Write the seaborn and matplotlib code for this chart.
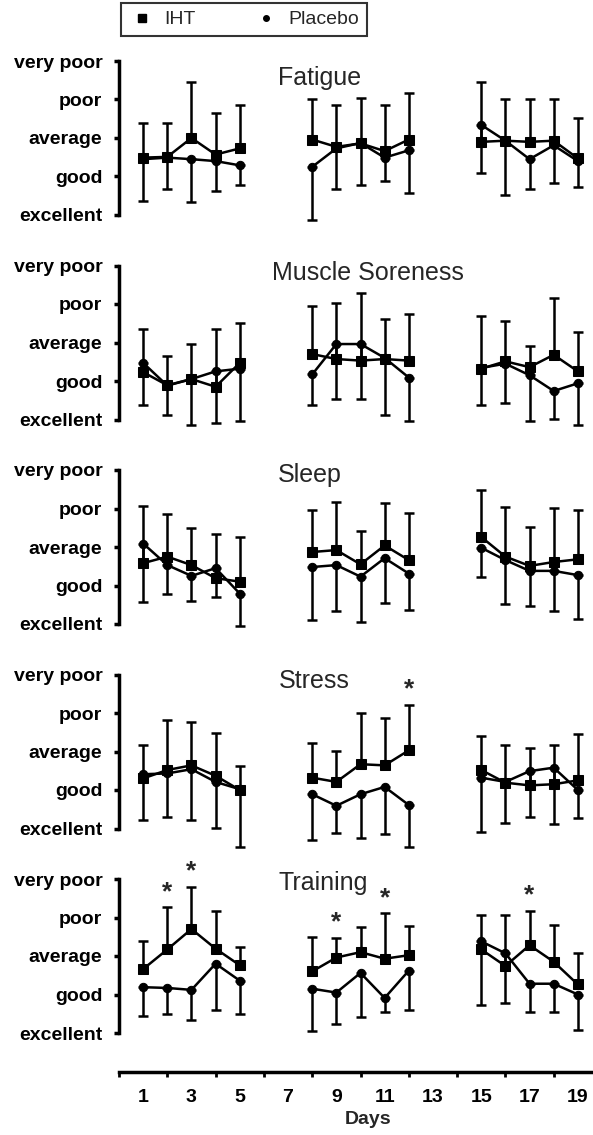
import numpy as np
import pandas as pd
import matplotlib
matplotlib.use("Agg")
import matplotlib.pyplot as plt
from matplotlib.lines import Line2D
import seaborn as sns

# ---------------- data ----------------
days = [1, 2, 3, 4, 5, 8, 9, 10, 11, 12, 15, 16, 17, 18, 19]
blocks = [1, 1, 1, 1, 1, 2, 2, 2, 2, 2, 3, 3, 3, 3, 3]
panels = ["Fatigue", "Muscle Soreness", "Sleep", "Stress", "Training"]
level_labels = ["excellent", "good", "average", "poor", "very poor"]
level_values = [1, 2, 3, 4, 5]
xtick_labels = ["1", "3", "5", "7", "9", "11", "13", "15", "17", "19"]

fatigue_iht = [2.49, 2.51, 3.00, 2.57, 2.73, 2.96, 2.77, 2.86, 2.66, 2.96, 2.90, 2.93, 2.90, 2.93, 2.47]
fatigue_iht_sd = [0.91, 0.89, 1.45, 1.09, 1.14, 1.06, 1.08, 1.19, 1.21, 1.21, 1.55, 1.07, 1.10, 1.07, 1.04]
fatigue_pla = [2.45, 2.49, 2.45, 2.40, 2.29, 2.25, 2.73, 2.87, 2.49, 2.68, 3.34, 2.93, 2.45, 2.81, 2.40]
fatigue_pla_sd = [1.08, 0.81, 1.11, 0.78, 0.51, 1.38, 1.05, 1.08, 0.61, 1.10, 1.25, 1.40, 0.77, 0.98, 0.68]

muscle_iht = [2.23, 1.89, 2.05, 1.85, 2.47, 2.70, 2.57, 2.53, 2.57, 2.53, 2.32, 2.51, 2.36, 2.68, 2.25]
muscle_iht_sd = [1.13, 0.77, 0.92, 1.51, 1.04, 1.24, 1.45, 1.76, 1.04, 1.22, 1.36, 1.06, 0.55, 1.47, 1.02]
muscle_pla = [2.47, 1.88, 2.05, 2.25, 2.32, 2.17, 2.96, 2.96, 2.60, 2.09, 2.34, 2.45, 2.15, 1.74, 1.94]
muscle_pla_sd = [1.10, 0.77, 1.18, 1.35, 1.36, 0.80, 1.43, 1.43, 1.49, 1.13, 0.96, 1.01, 1.19, 0.72, 1.08]

sleep_iht = [2.58, 2.75, 2.53, 2.19, 2.10, 2.87, 2.92, 2.55, 3.04, 2.66, 3.26, 2.75, 2.51, 2.61, 2.68]
sleep_iht_sd = [1.48, 1.11, 0.97, 1.15, 1.16, 1.10, 1.25, 0.86, 1.11, 1.23, 1.23, 1.28, 1.02, 1.41, 1.29]
sleep_pla = [3.09, 2.53, 2.25, 2.45, 1.79, 2.48, 2.53, 2.23, 2.71, 2.31, 2.98, 2.66, 2.38, 2.38, 2.27]
sleep_pla_sd = [1.53, 0.74, 0.66, 0.76, 0.83, 1.37, 1.20, 1.17, 1.17, 0.94, 0.77, 1.13, 0.91, 1.05, 1.14]

stress_iht = [2.30, 2.52, 2.64, 2.37, 2.00, 2.32, 2.21, 2.67, 2.64, 3.03, 2.52, 2.19, 2.12, 2.15, 2.25]
stress_iht_sd = [0.87, 1.30, 1.12, 1.10, 0.62, 0.91, 0.80, 1.32, 1.24, 1.19, 0.88, 0.97, 0.96, 1.01, 1.21]
stress_pla = [2.41, 2.43, 2.54, 2.21, 2.02, 1.89, 1.59, 1.89, 2.08, 1.61, 2.32, 2.21, 2.49, 2.58, 2.00]
stress_pla_sd = [1.19, 1.14, 1.32, 1.20, 1.49, 1.18, 0.71, 1.14, 1.23, 1.08, 1.41, 1.08, 1.20, 1.47, 0.73]

training_iht = [2.66, 3.17, 3.70, 3.19, 2.76, 2.60, 2.96, 3.10, 2.93, 3.02, 3.17, 2.74, 3.28, 2.85, 2.26]
training_iht_sd = [0.72, 1.09, 1.09, 0.98, 0.48, 0.89, 0.51, 0.65, 1.18, 0.75, 0.89, 1.32, 0.89, 0.96, 0.83]
training_pla = [2.19, 2.17, 2.12, 2.80, 2.36, 2.15, 2.05, 2.56, 1.91, 2.62, 3.38, 3.07, 2.28, 2.28, 2.00]
training_pla_sd = [0.76, 0.68, 0.78, 1.20, 0.87, 1.11, 0.82, 1.15, 0.37, 1.02, 1.64, 1.28, 0.74, 0.74, 0.91]

significant_days = {"Fatigue": [], "Muscle Soreness": [], "Sleep": [],
                    "Stress": [12], "Training": [2, 3, 9, 11, 17]}

series = {
    "Fatigue": (fatigue_iht, fatigue_iht_sd, fatigue_pla, fatigue_pla_sd),
    "Muscle Soreness": (muscle_iht, muscle_iht_sd, muscle_pla, muscle_pla_sd),
    "Sleep": (sleep_iht, sleep_iht_sd, sleep_pla, sleep_pla_sd),
    "Stress": (stress_iht, stress_iht_sd, stress_pla, stress_pla_sd),
    "Training": (training_iht, training_iht_sd, training_pla, training_pla_sd),
}

# ---------------- layout ----------------
sns.set_theme(style="white")
plt.rcParams["font.family"] = ["Liberation Sans", "DejaVu Sans"]

W, H = 593, 1135
fig = plt.figure(figsize=(W / 100, H / 100), dpi=100)

x0_px = 119.0
px_per_day = 24.15
xmax = 19.6
unit_px = 38.5
ylo, yhi = 0.3, 5.4
tops = [61.0, 265.5, 470.0, 674.5, 879.0]   # pixel row of "very poor"

title_pos = {"Fatigue": (8.3, 4.55), "Muscle Soreness": (10.3, 4.8),
             "Sleep": (7.9, 4.87), "Stress": (8.1, 4.82), "Training": (8.45, 4.9)}

left = x0_px / W
width = xmax * px_per_day / W

for name, top in zip(panels, tops):
    bottom_px = top + (5 - ylo) * unit_px
    height_px = (yhi - ylo) * unit_px
    ax = fig.add_axes([left, 1 - bottom_px / H, width, height_px / H])
    iht, iht_sd, pla, pla_sd = series[name]
    df = pd.DataFrame({
        "day": days * 2,
        "block": blocks * 2,
        "score": iht + pla,
        "group": ["IHT"] * len(days) + ["Placebo"] * len(days),
    })
    # error bars: IHT upwards, Placebo downwards
    ax.errorbar(days, iht, yerr=[np.zeros(len(days)), iht_sd], fmt="none",
                ecolor="black", elinewidth=1.8, capsize=3.5, capthick=1.8, zorder=2)
    ax.errorbar(days, pla, yerr=[pla_sd, np.zeros(len(days))], fmt="none",
                ecolor="black", elinewidth=1.8, capsize=3.5, capthick=1.8, zorder=2)
    sns.lineplot(data=df[df.group == "Placebo"], x="day", y="score", units="block",
                 estimator=None, color="black", lw=1.8, marker="o", markersize=6,
                 markeredgecolor="black", ax=ax, zorder=3, legend=False)
    sns.lineplot(data=df[df.group == "IHT"], x="day", y="score", units="block",
                 estimator=None, color="black", lw=1.8, marker="s", markersize=7.5,
                 markeredgecolor="black", ax=ax, zorder=4, legend=False)
    for d in significant_days[name]:
        i = days.index(d)
        ax.text(d, iht[i] + iht_sd[i] + 0.4, "*", ha="center", va="center",
                fontsize=19, fontweight="bold")
    tx, ty = title_pos[name]
    ax.text(tx, ty, name, ha="center", va="center", fontsize=18)

    ax.set_xlim(0, xmax)
    ax.set_ylim(ylo, yhi)
    ax.set_xticks([])
    ax.set_yticks(level_values)
    ax.set_yticklabels(level_labels, fontsize=14, fontweight="bold")
    ax.tick_params(axis="y", left=True, direction="out", length=3.5, width=2.5,
                   pad=8.5, colors="black")
    for s in ["top", "right", "bottom"]:
        ax.spines[s].set_visible(False)
    ax.spines["left"].set_bounds(1, 5)
    ax.spines["left"].set_linewidth(2.5)
    ax.spines["left"].set_color("black")
    ax.set_xlabel("")
    ax.set_ylabel("")
    ax.patch.set_alpha(0)

# bottom day axis
axis_px = 1072
axx = fig.add_axes([left, 1 - axis_px / H, width, 0.001])
axx.set_xlim(0, xmax)
axx.set_yticks([])
axx.set_xticks([int(t) for t in xtick_labels])
axx.set_xticklabels(xtick_labels, fontsize=14, fontweight="bold")
axx.set_xticks(range(0, 19, 2), minor=True)
axx.tick_params(axis="x", which="major", length=0, pad=12, colors="black", bottom=True)
axx.tick_params(axis="x", which="minor", length=3.5, width=2, direction="out",
                bottom=True, colors="black")
for s in ["top", "right", "left"]:
    axx.spines[s].set_visible(False)
axx.spines["bottom"].set_linewidth(2.5)
axx.spines["bottom"].set_color("black")
axx.patch.set_alpha(0)
fig.text((x0_px + 10.3 * px_per_day) / W, 1 - 1119 / H, "Days", ha="center",
         va="center", fontsize=14, fontweight="bold")

# legend
handles = [Line2D([], [], color="black", marker="s", linestyle="none", markersize=5.5),
           Line2D([], [], color="black", marker="o", linestyle="none", markersize=4)]
leg = fig.legend(handles, ["IHT", "Placebo"], loc="upper left",
                 bbox_to_anchor=(121 / W, 1 - 3 / H), ncol=2, frameon=True,
                 fontsize=14, handletextpad=0.45, columnspacing=2.9, borderpad=0.4,
                 fancybox=False, edgecolor="black", handlelength=1.4,
                 borderaxespad=0)
leg.get_frame().set_linewidth(1.5)

fig.savefig("out.png", dpi=100, facecolor="white")
